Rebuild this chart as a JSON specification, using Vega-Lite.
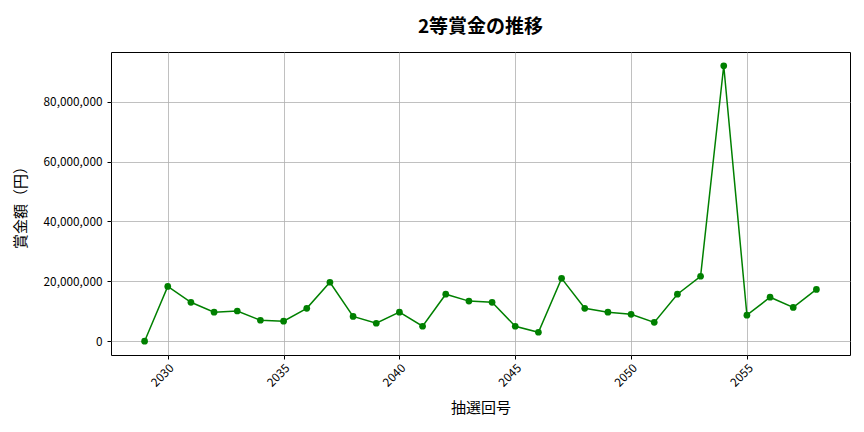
{
  "$schema": "https://vega.github.io/schema/vega-lite/v6.json",
  "width": 739,
  "height": 303,
  "autosize": "none",
  "padding": {"left": 111, "top": 52, "right": 14, "bottom": 77},
  "background": "white",
  "title": {
    "text": "2等賞金の推移",
    "font": "Noto Sans CJK JP",
    "fontSize": 19,
    "fontWeight": "bold",
    "color": "black",
    "anchor": "middle",
    "offset": 15
  },
  "config": {
    "view": {"stroke": "black", "strokeWidth": 1},
    "axis": {
      "labelFont": "Noto Sans CJK JP",
      "labelFontSize": 11.8,
      "labelColor": "black",
      "titleFont": "Noto Sans CJK JP",
      "titleFontSize": 15,
      "titleFontWeight": "normal",
      "titleColor": "black",
      "gridColor": "#b0b0b0",
      "gridWidth": 0.8,
      "tickColor": "black",
      "tickSize": 4,
      "domain": false
    }
  },
  "data": {
    "values": [
      {"round": 2029, "prize": 0},
      {"round": 2030, "prize": 18300000},
      {"round": 2031, "prize": 13000000},
      {"round": 2032, "prize": 9700000},
      {"round": 2033, "prize": 10100000},
      {"round": 2034, "prize": 7000000},
      {"round": 2035, "prize": 6700000},
      {"round": 2036, "prize": 11000000},
      {"round": 2037, "prize": 19700000},
      {"round": 2038, "prize": 8300000},
      {"round": 2039, "prize": 6000000},
      {"round": 2040, "prize": 9700000},
      {"round": 2041, "prize": 5000000},
      {"round": 2042, "prize": 15700000},
      {"round": 2043, "prize": 13400000},
      {"round": 2044, "prize": 13000000},
      {"round": 2045, "prize": 5000000},
      {"round": 2046, "prize": 3000000},
      {"round": 2047, "prize": 21000000},
      {"round": 2048, "prize": 11000000},
      {"round": 2049, "prize": 9700000},
      {"round": 2050, "prize": 9000000},
      {"round": 2051, "prize": 6300000},
      {"round": 2052, "prize": 15700000},
      {"round": 2053, "prize": 21700000},
      {"round": 2054, "prize": 92000000},
      {"round": 2055, "prize": 8700000},
      {"round": 2056, "prize": 14700000},
      {"round": 2057, "prize": 11300000},
      {"round": 2058, "prize": 17300000}
    ]
  },
  "encoding": {
    "x": {
      "field": "round",
      "type": "quantitative",
      "title": "抽選回号",
      "scale": {"domain": [2027.55, 2059.45], "nice": false, "zero": false},
      "axis": {
        "values": [2030, 2035, 2040, 2045, 2050, 2055],
        "format": "d",
        "labelAngle": -45,
        "labelAlign": "right",
        "labelBaseline": "top",
        "labelPadding": 3,
        "titlePadding": 12
      }
    },
    "y": {
      "field": "prize",
      "type": "quantitative",
      "title": "賞金額（円）",
      "scale": {"domain": [-4600000, 96600000], "nice": false, "zero": false},
      "axis": {
        "values": [0, 20000000, 40000000, 60000000, 80000000],
        "format": ",d",
        "labelPadding": 5,
        "titlePadding": 15
      }
    }
  },
  "layer": [
    {"mark": {"type": "line", "color": "green", "strokeWidth": 1.5}},
    {"mark": {"type": "point", "filled": true, "color": "green", "opacity": 1, "size": 45}}
  ]
}
